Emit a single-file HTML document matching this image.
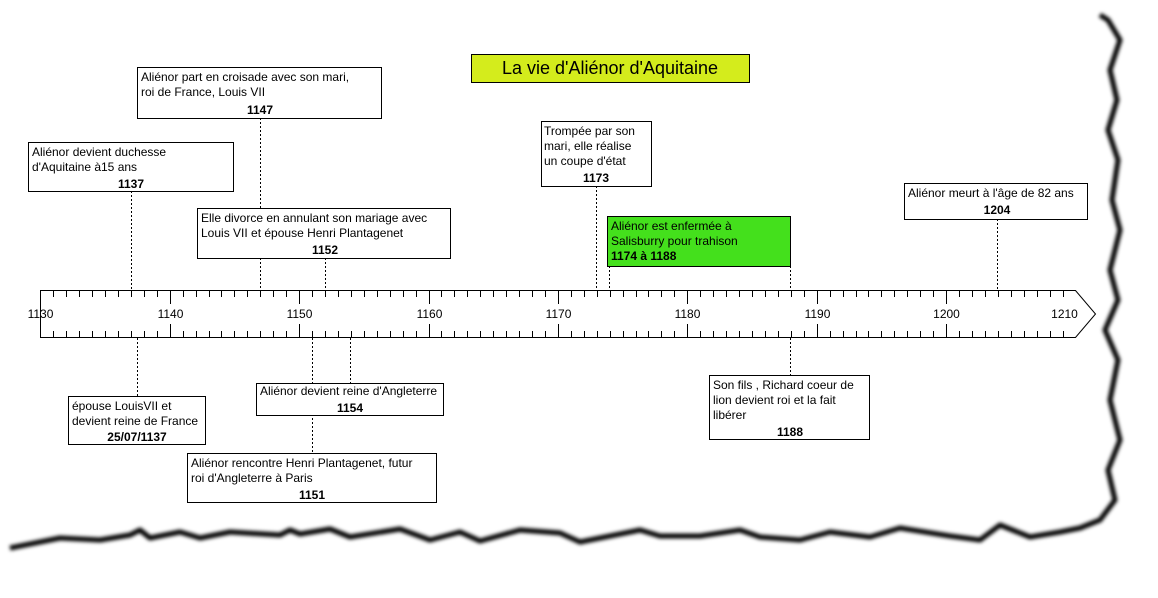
<!DOCTYPE html>
<html><head><meta charset="utf-8"><style>
html,body{margin:0;padding:0;background:#fff;width:1158px;height:598px;overflow:hidden}
svg text{font-family:"Liberation Sans",sans-serif;font-size:12px;fill:#000}
.b{font-weight:bold}
</style></head><body>
<svg width="1158" height="598" xmlns="http://www.w3.org/2000/svg">
<defs><filter id="bl" x="-5%" y="-5%" width="110%" height="110%"><feGaussianBlur stdDeviation="1.8"/></filter></defs>
<polyline filter="url(#bl)" fill="none" stroke="#000" stroke-width="5" stroke-linejoin="round"
points="10,548 40,542 60,538 100,540 130,535 140,530 150,538 180,532 200,538 230,532 280,535 290,530 300,534 330,529 350,537 400,529 430,540 460,532 480,541 520,530 560,533 580,542 600,538 640,530 660,536 700,536 740,530 760,537 800,540 830,532 870,537 900,528 950,536 980,540 1000,525 1030,537 1060,532 1080,528 1100,520 1115,500 1108,470 1120,440 1110,400 1118,360 1105,330 1118,300 1110,270 1120,230 1112,200 1118,160 1108,130 1117,100 1110,70 1120,40 1108,20 1100,15"/>

<!-- title -->
<rect x="471.5" y="54.5" width="278" height="28" fill="#d4ec1c" stroke="#000"/>
<text x="610" y="74" text-anchor="middle" style="font-size:18px">La vie d'Aliénor d'Aquitaine</text>

<!-- connectors -->
<g stroke="#000" stroke-dasharray="2,2" stroke-width="1">
<line x1="260.5" y1="118" x2="260.5" y2="290"/>
<line x1="131.5" y1="191" x2="131.5" y2="290"/>
<line x1="325.5" y1="258" x2="325.5" y2="290"/>
<line x1="596.5" y1="186" x2="596.5" y2="290"/>
<line x1="609.5" y1="266" x2="609.5" y2="290"/>
<line x1="790.5" y1="266" x2="790.5" y2="290"/>
<line x1="997.5" y1="219" x2="997.5" y2="290"/>
<line x1="137.5" y1="338" x2="137.5" y2="396"/>
<line x1="350.5" y1="338" x2="350.5" y2="383"/>
<line x1="312.5" y1="338" x2="312.5" y2="453"/>
<line x1="790.5" y1="338" x2="790.5" y2="375"/>
</g>

<!-- timeline -->
<path d="M40.5,290.5 H1075.5 L1095.5,314 L1075.5,337.5 H40.5 Z" fill="#fff" stroke="#000"/>
<g id="ticks" stroke="#000"></g>
<g id="labs"></g>

<!-- boxes -->
<g fill="#fff" stroke="#000">
<rect x="137.5" y="67.5" width="244" height="51"/>
<rect x="28.5" y="142.5" width="205" height="49"/>
<rect x="197.5" y="208.5" width="253" height="50"/>
<rect x="541.5" y="121.5" width="110" height="65"/>
<rect x="607.5" y="216.5" width="183" height="50" fill="#44e01c"/>
<rect x="904.5" y="183.5" width="183" height="36"/>
<rect x="68.5" y="396.5" width="137" height="48"/>
<rect x="256.5" y="383.5" width="187" height="32"/>
<rect x="187.5" y="453.5" width="249" height="49"/>
<rect x="709.5" y="375.5" width="160" height="64"/>
</g>

<text x="141" y="81">Aliénor part en croisade avec son mari,</text>
<text x="141" y="96">roi de France, Louis VII</text>
<text x="260" y="114" class="b" text-anchor="middle">1147</text>

<text x="32" y="156">Aliénor devient duchesse</text>
<text x="32" y="171">d'Aquitaine à15 ans</text>
<text x="131" y="188" class="b" text-anchor="middle">1137</text>

<text x="201" y="222">Elle divorce en annulant son mariage avec</text>
<text x="201" y="237">Louis VII et épouse Henri Plantagenet</text>
<text x="325" y="254" class="b" text-anchor="middle">1152</text>

<text x="544" y="135">Trompée par son</text>
<text x="544" y="150">mari, elle réalise</text>
<text x="544" y="165">un coupe d'état</text>
<text x="596" y="182" class="b" text-anchor="middle">1173</text>

<text x="611" y="230">Aliénor est enfermée à</text>
<text x="611" y="245">Salisburry pour trahison</text>
<text x="611" y="260" class="b">1174 à 1188</text>

<text x="908" y="197">Aliénor meurt à l'âge de 82 ans</text>
<text x="997" y="214" class="b" text-anchor="middle">1204</text>

<text x="72" y="410">épouse LouisVII et</text>
<text x="72" y="425">devient reine de France</text>
<text x="137" y="441" class="b" text-anchor="middle">25/07/1137</text>

<text x="260" y="395">Aliénor devient reine d'Angleterre</text>
<text x="350" y="412" class="b" text-anchor="middle">1154</text>

<text x="191" y="467">Aliénor rencontre Henri Plantagenet, futur</text>
<text x="191" y="482">roi d'Angleterre à Paris</text>
<text x="312" y="499" class="b" text-anchor="middle">1151</text>

<text x="713" y="389">Son fils , Richard coeur de</text>
<text x="713" y="404">lion devient roi et la fait</text>
<text x="713" y="419">libérer</text>
<text x="790" y="436" class="b" text-anchor="middle">1188</text>
</svg>
<script>
var ns="http://www.w3.org/2000/svg",t=document.getElementById("ticks"),l=document.getElementById("labs");
for(var y=1130;y<=1210;y++){var x=Math.round(40.3+(y-1130)*12.94)+0.5;var maj=(y%10==0);
 if(y>1130&&y<1210){var a=document.createElementNS(ns,"line");a.setAttribute("x1",x);a.setAttribute("x2",x);a.setAttribute("y1",290);a.setAttribute("y2",maj?304:297);t.appendChild(a);
 var b=document.createElementNS(ns,"line");b.setAttribute("x1",x);b.setAttribute("x2",x);b.setAttribute("y1",maj?324:331);b.setAttribute("y2",338);t.appendChild(b);}
 if(maj){var s=document.createElementNS(ns,"text");s.setAttribute("x",y==1210?x-12:x);s.setAttribute("y",318);s.setAttribute("text-anchor","middle");s.textContent=y;l.appendChild(s);}}
</script>
</body></html>
